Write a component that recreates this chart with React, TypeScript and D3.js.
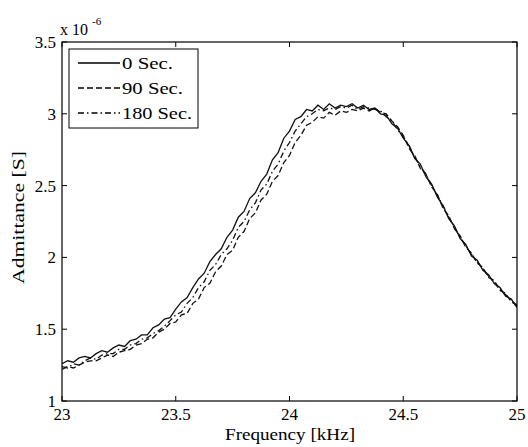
import React from "react";
import * as d3 from "d3";

const FREQ_START = 23;
const FREQ_STEP = 0.025;

const sec0 = [
  1.26, 1.28, 1.27, 1.30, 1.31, 1.30, 1.33, 1.35, 1.34, 1.37,
  1.39, 1.38, 1.42, 1.43, 1.46, 1.46, 1.51, 1.53, 1.57, 1.58,
  1.64, 1.69, 1.72, 1.79, 1.85, 1.89, 1.97, 2.02, 2.06, 2.14,
  2.19, 2.28, 2.32, 2.41, 2.45, 2.53, 2.58, 2.68, 2.73, 2.83,
  2.88, 2.96, 2.98, 3.03, 3.02, 3.06, 3.03, 3.07, 3.04, 3.06,
  3.05, 3.07, 3.04, 3.06, 3.03, 3.04, 3.00, 2.99, 2.93, 2.90,
  2.83, 2.78, 2.69, 2.65, 2.56, 2.51, 2.42, 2.36, 2.27, 2.22,
  2.13, 2.09, 2.01, 1.98, 1.91, 1.88, 1.82, 1.79, 1.73, 1.71,
  1.65,
];

const sec90 = [
  1.22, 1.24, 1.23, 1.25, 1.27, 1.28, 1.28, 1.30, 1.32, 1.31,
  1.34, 1.35, 1.36, 1.39, 1.40, 1.43, 1.44, 1.48, 1.50, 1.54,
  1.55, 1.60, 1.61, 1.68, 1.71, 1.79, 1.82, 1.90, 1.94, 2.02,
  2.05, 2.14, 2.18, 2.27, 2.31, 2.40, 2.44, 2.53, 2.57, 2.66,
  2.71, 2.80, 2.85, 2.92, 2.94, 2.98, 2.97, 3.01, 2.99, 3.02,
  3.01, 3.03, 3.02, 3.04, 3.02, 3.04, 3.01, 3.00, 2.95, 2.91,
  2.85, 2.76, 2.71, 2.62, 2.58, 2.49, 2.44, 2.34, 2.29, 2.20,
  2.15, 2.07, 2.03, 1.96, 1.93, 1.86, 1.84, 1.77, 1.75, 1.69,
  1.67,
];

const sec180 = [
  1.24, 1.23, 1.26, 1.25, 1.28, 1.30, 1.29, 1.32, 1.33, 1.33,
  1.36, 1.36, 1.39, 1.40, 1.43, 1.44, 1.47, 1.49, 1.52, 1.56,
  1.60, 1.62, 1.68, 1.72, 1.79, 1.83, 1.91, 1.95, 2.02, 2.06,
  2.12, 2.21, 2.25, 2.33, 2.38, 2.47, 2.51, 2.60, 2.65, 2.74,
  2.80, 2.88, 2.93, 2.98, 3.00, 3.03, 3.02, 3.04, 3.03, 3.05,
  3.04, 3.06, 3.03, 3.05, 3.04, 3.03, 3.02, 2.98, 2.95, 2.89,
  2.84, 2.78, 2.70, 2.63, 2.58, 2.50, 2.43, 2.36, 2.28, 2.21,
  2.14, 2.08, 2.02, 1.97, 1.92, 1.87, 1.82, 1.78, 1.74, 1.70,
  1.66,
];

const xTicks = [23, 23.5, 24, 24.5, 25];
const yTicks = [1, 1.5, 2, 2.5, 3, 3.5];
const legendLabels = ["0 Sec.", "90 Sec.", "180 Sec."];
const dashStyles = ["", "6,3", "6,3,1.5,3"];

const W = 528;
const H = 447;
const L = 62;
const R = 517;
const T = 42;
const B = 401;
const FONT = "Liberation Serif, Times New Roman, Times, serif";

export default function App() {
  const x = d3.scaleLinear().domain([23, 25]).range([L, R]);
  const y = d3.scaleLinear().domain([1, 3.5]).range([B, T]);
  const series = [sec0, sec90, sec180];
  const line = d3
    .line<number>()
    .x((_, i) => x(FREQ_START + i * FREQ_STEP))
    .y((d) => y(d));

  const tickLen = 5;

  return (
    <svg
      width={W}
      height={H}
      style={{ position: "absolute", left: 0, top: 0, background: "#fff", fontFamily: FONT }}
    >
      <rect x={0} y={0} width={W} height={H} fill="#fff" />
      <defs>
        <clipPath id="plot">
          <rect x={L} y={T} width={R - L} height={B - T} />
        </clipPath>
      </defs>
      <g clipPath="url(#plot)">
        {series.map((s, k) => (
          <path
            key={k}
            d={line(s) || ""}
            fill="none"
            stroke="#111"
            strokeWidth={1.3}
            strokeDasharray={dashStyles[k] || undefined}
          />
        ))}
      </g>
      <rect x={L} y={T} width={R - L} height={B - T} fill="none" stroke="#000" strokeWidth={1.2} />
      {xTicks.map((t) => (
        <g key={"x" + t}>
          <line x1={x(t)} x2={x(t)} y1={B} y2={B - tickLen} stroke="#000" />
          <line x1={x(t)} x2={x(t)} y1={T} y2={T + tickLen} stroke="#000" />
          <text x={x(t)} y={420} fontSize={17} textAnchor="middle">
            {String(t)}
          </text>
        </g>
      ))}
      {yTicks.map((t) => (
        <g key={"y" + t}>
          <line x1={L} x2={L + tickLen} y1={y(t)} y2={y(t)} stroke="#000" />
          <line x1={R} x2={R - tickLen} y1={y(t)} y2={y(t)} stroke="#000" />
          <text x={56} y={y(t) + 6} fontSize={17} textAnchor="end">
            {String(t)}
          </text>
        </g>
      ))}
      <text x={60} y={35} fontSize={16}>
        x 10
      </text>
      <text x={92} y={25} fontSize={11}>
        -6
      </text>
      <text
        x={290}
        y={440}
        fontSize={17}
        textAnchor="middle"
        textLength={130}
        lengthAdjust="spacingAndGlyphs"
      >
        Frequency [kHz]
      </text>
      <text
        transform={`translate(24, ${(T + B) / 2 - 4}) rotate(-90)`}
        fontSize={17}
        textAnchor="middle"
        textLength={133}
        lengthAdjust="spacingAndGlyphs"
      >
        Admittance [S]
      </text>
      <rect x={69} y={49} width={129} height={79} fill="#fff" stroke="#000" strokeWidth={1} />
      {legendLabels.map((lab, k) => {
        const ly = 63 + k * 25;
        return (
          <g key={lab}>
            <line
              x1={78}
              x2={120}
              y1={ly}
              y2={ly}
              stroke="#000"
              strokeWidth={1.3}
              strokeDasharray={dashStyles[k] || undefined}
            />
            <text
              x={122}
              y={ly + 6}
              fontSize={17}
              textLength={k === 0 ? 51 : k === 1 ? 61 : 70}
              lengthAdjust="spacingAndGlyphs"
            >
              {lab}
            </text>
          </g>
        );
      })}
    </svg>
  );
}
